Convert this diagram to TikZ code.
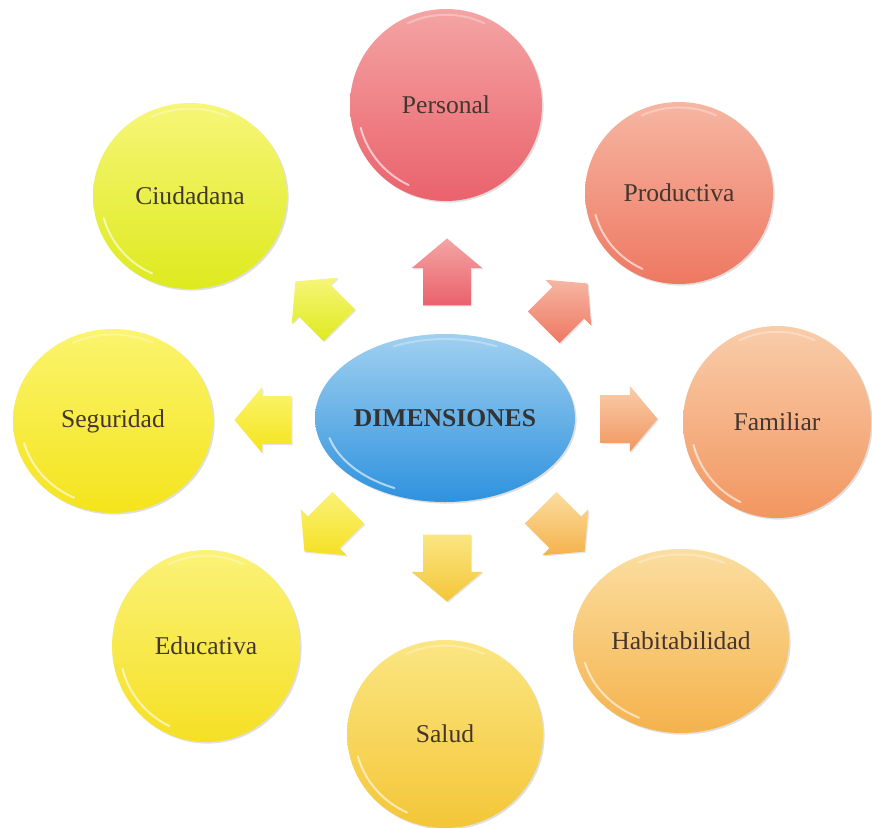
\documentclass[tikz,border=0pt]{standalone}
\usepackage{fontspec}
\setmainfont{Liberation Serif}
\usepackage{xcolor}
\usetikzlibrary{shapes.geometric,shapes.arrows,shadows,calc}

% ball colours (light top / deep bottom)
\definecolor{perTop}{RGB}{244,164,164}
\definecolor{perBot}{RGB}{234,98,108}
\definecolor{proTop}{RGB}{246,182,162}
\definecolor{proBot}{RGB}{238,120,98}
\definecolor{famTop}{RGB}{249,205,170}
\definecolor{famBot}{RGB}{242,150,96}
\definecolor{habTop}{RGB}{251,222,160}
\definecolor{habBot}{RGB}{245,178,76}
\definecolor{salTop}{RGB}{251,230,130}
\definecolor{salBot}{RGB}{244,198,56}
\definecolor{eduTop}{RGB}{251,242,120}
\definecolor{eduBot}{RGB}{245,224,36}
\definecolor{segTop}{RGB}{251,244,110}
\definecolor{segBot}{RGB}{244,228,28}
\definecolor{ciuTop}{RGB}{246,246,120}
\definecolor{ciuBot}{RGB}{222,234,30}
\definecolor{dimTop}{RGB}{160,208,240}
\definecolor{dimBot}{RGB}{46,146,222}
\definecolor{txtbrown}{RGB}{68,54,46}

\tikzset{
  gloss/.style={white, line width=1pt, opacity=.6, line cap=round},
  dimball/.style 2 args={ellipse, minimum width=96pt, minimum height=96pt, inner sep=0pt,
    top color=#1, bottom color=#2, font=\fontsize{12.8}{15}\selectfont, text=txtbrown,
    drop shadow={opacity=.25, shadow xshift=.8pt, shadow yshift=-.8pt},
    path picture={
      \draw[gloss] let \p1=($(path picture bounding box.north east)-(path picture bounding box.center)$) in
        ($(path picture bounding box.center)+(195:0.92*\x1 and 0.92*\y1)$)
        arc[start angle=195, end angle=245, x radius=0.92*\x1, y radius=0.92*\y1];
      \draw[gloss, opacity=.3] let \p1=($(path picture bounding box.north east)-(path picture bounding box.center)$) in
        ($(path picture bounding box.center)+(65:0.94*\x1 and 0.94*\y1)$)
        arc[start angle=65, end angle=115, x radius=0.94*\x1, y radius=0.94*\y1];
    }},
  blockarrow/.style 2 args={single arrow, inner xsep=0pt, inner ysep=11.75pt,
    single arrow head extend=5.75pt, single arrow tip angle=100,
    top color=#1, bottom color=#2,
    drop shadow={opacity=.2, shadow xshift=.6pt, shadow yshift=-.6pt}},
  diagarrow/.style={minimum height=31pt, inner ysep=11pt, single arrow head extend=5pt},
}

\begin{document}
\begin{tikzpicture}[x=0.5pt, y=0.5pt]
    \useasboundingbox[fill=white] (0,0) rectangle (872,827);

    % centre
    \node[dimball={dimTop}{dimBot}, minimum width=130pt, minimum height=84pt,
          font=\fontsize{12.8}{15}\selectfont\bfseries, text={black!80}] (dim) at (445,409) {DIMENSIONES};

    % the eight dimensions
    \node[dimball={perTop}{perBot}] (per) at (446,722) {Personal};
    \node[dimball={proTop}{proBot}, minimum width=94pt, minimum height=91pt] (pro) at (679,634) {Productiva};
    \node[dimball={famTop}{famBot}, minimum width=94pt] (fam) at (777,405) {Familiar};
    \node[dimball={habTop}{habBot}, minimum width=108pt, minimum height=92pt] (hab) at (681,186) {Habitabilidad};
    \node[dimball={salTop}{salBot}, minimum width=98pt, minimum height=94pt] (sal) at (445,93) {Salud};
    \node[dimball={eduTop}{eduBot}, minimum width=94pt] (edu) at (206,181) {Educativa};
    \node[dimball={segTop}{segBot}, minimum width=100pt, minimum height=92pt] (seg) at (113,406) {Seguridad};
    \node[dimball={ciuTop}{ciuBot}, minimum width=97pt, minimum height=93pt] (ciu) at (190,631) {Ciudadana};

    % arrows out of the centre
    \node[blockarrow={perTop}{perBot}, minimum height=33.5pt, rotate=90] (a-per) at (447,545) {};
    \node[blockarrow={proTop}{proBot}, diagarrow, rotate=45] (a-pro) at (559,515) {};
    \node[blockarrow={famTop}{famBot}, minimum height=28.5pt, single arrow head extend=4.5pt] (a-fam) at (619,408) {};
    \node[blockarrow={habTop}{habBot}, diagarrow, rotate=-45] (a-hab) at (556,304) {};
    \node[blockarrow={salTop}{salBot}, minimum height=33.5pt, rotate=-90] (a-sal) at (447,269) {};
    \node[blockarrow={eduTop}{eduBot}, diagarrow, rotate=-135] (a-edu) at (333,304) {};
    \node[blockarrow={segTop}{segBot}, minimum height=28.5pt, single arrow head extend=4.5pt, rotate=180] (a-seg) at (273,407) {};
    \node[blockarrow={ciuTop}{ciuBot}, diagarrow, rotate=135] (a-ciu) at (324,517) {};
\end{tikzpicture}
\end{document}
